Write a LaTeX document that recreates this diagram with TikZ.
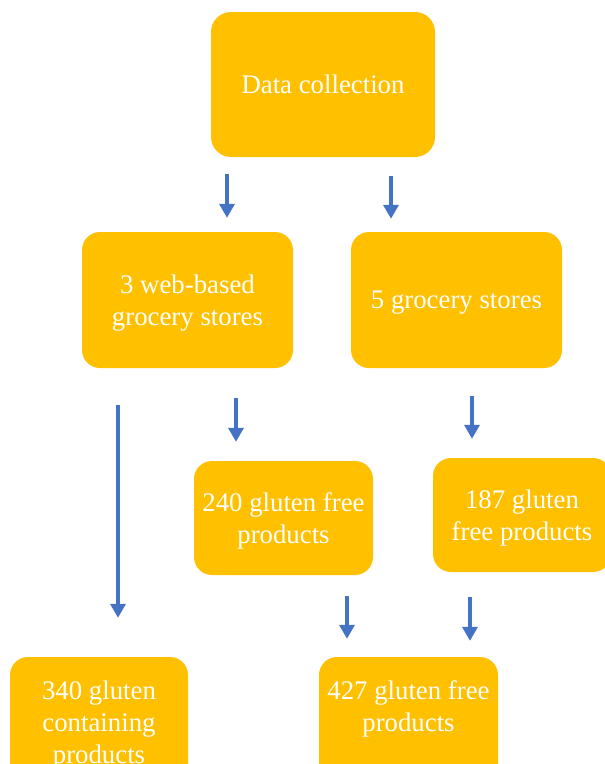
\documentclass[tikz,border=0pt]{standalone}
\usepackage{fontspec}
\setmainfont{Liberation Serif}
\usetikzlibrary{positioning, arrows.meta}
\definecolor{boxOrange}{HTML}{FFC000}
\definecolor{arrowBlue}{HTML}{4472C4}
\definecolor{boxText}{HTML}{FFFFFF}
\begin{document}
\begin{tikzpicture}[
    x=1pt, y=-1pt,
    every node/.style={font=\fontsize{26.8}{32}\selectfont},
    stage/.style={fill=boxOrange, draw=none, text=boxText, rounded corners=18pt,
        align=center, inner sep=0pt, text depth=0pt},
    flow/.style={-{Triangle[width=15pt, length=14pt]}, draw=arrowBlue, line width=3.5pt},
]
\useasboundingbox (0,0) rectangle (605,764);
\clip (0,0) rectangle (605,764);
% boxes, 1pt = 1px of the layout
\node[stage, minimum width=224pt, minimum height=145pt, rounded corners=20pt] (data) at (323, 84.5) {Data collection};
\node[stage, minimum width=211pt, minimum height=136pt] (web)   at (187.5, 300) {3 web-based\\grocery stores};
\node[stage, minimum width=211pt, minimum height=136pt] (shop)  at (456.5, 300) {5 grocery stores};
\node[stage, minimum width=179pt, minimum height=114pt] (gf240) at (283.5, 518) {240 gluten free\\products};
\node[stage, minimum width=178pt, minimum height=114pt] (gf187) at (522, 515) {187 gluten\\free products};
\node[stage, minimum width=178pt, minimum height=130pt] (gc340) at (99, 722) {340 gluten\\containing\\products};
\node[stage, minimum width=179pt, minimum height=130pt] (gf427) at (408.5, 722) {427 gluten free\\products\\~};
% arrows (free standing, gaps on both ends)
\draw[flow, shorten <=17pt, shorten >=14pt] ([xshift=-96pt]data.south)  -- ([xshift=39.5pt]web.north);
\draw[flow, shorten <=19pt, shorten >=13pt] ([xshift=68pt]data.south)   -- ([xshift=-65.5pt]shop.north);
\draw[flow, shorten <=37pt, shorten >=39pt] ([xshift=-69.5pt]web.south) -- ([xshift=19pt]gc340.north);
\draw[flow, shorten <=30pt, shorten >=19pt] ([xshift=48.5pt]web.south)  -- ([xshift=-47.5pt]gf240.north);
\draw[flow, shorten <=28pt, shorten >=19pt] ([xshift=15.5pt]shop.south) -- ([xshift=-50pt]gf187.north);
\draw[flow, shorten <=21pt, shorten >=18pt] ([xshift=63.5pt]gf240.south) -- ([xshift=-61.5pt]gf427.north);
\draw[flow, shorten <=25pt, shorten >=16pt] ([xshift=-52pt]gf187.south)  -- ([xshift=61.5pt]gf427.north);
\end{tikzpicture}
\end{document}
